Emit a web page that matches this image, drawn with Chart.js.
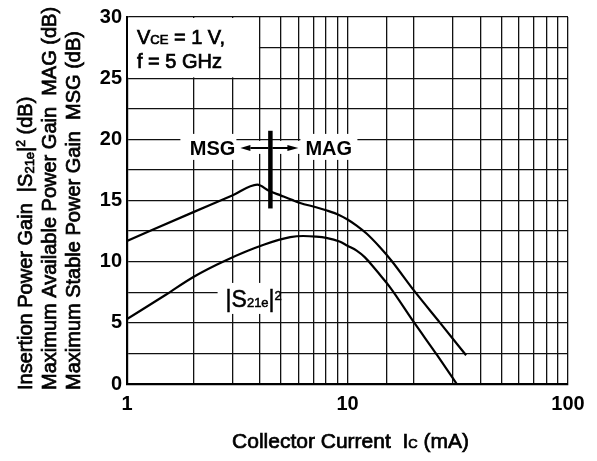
<!DOCTYPE html>
<html>
<head>
<meta charset="utf-8">
<script src="https://cdn.jsdelivr.net/npm/chart.js@4/dist/chart.umd.min.js"></script>
<style>
  html, body { margin: 0; padding: 0; background: #fff; }
  #wrap { width: 597px; height: 461px; }
</style>
</head>
<body>
<div id="wrap"><canvas id="c" width="597" height="461"></canvas></div>
<script>
// MSG / MAG versus collector current (VCE = 1 V, f = 5 GHz)
const gainCurrent = [1, 2, 3, 3.9, 4.4, 5.0, 5.6, 6.1, 7.2, 8, 9.2, 10, 11, 12.2, 14, 15.8, 20, 26.3, 34.5];
const gainValues  = [11.7, 14.05, 15.4, 16.3, 15.8, 15.4, 15.05, 14.8, 14.45, 14.2, 13.8, 13.45, 12.95, 12.3, 11.2, 10.1, 7.65, 5.0, 2.35];

// Insertion power gain |S21e|^2 versus collector current
const s21Current = [1, 1.5, 2, 2.8, 4.2, 5.5, 6.3, 7.2, 8, 9.2, 10, 11, 12, 13, 14, 15.6, 20, 25.4, 31.3];
const s21Values  = [5.3, 7.3, 8.75, 10.1, 11.4, 12.0, 12.1, 12.05, 11.95, 11.65, 11.3, 10.9, 10.35, 9.65, 8.95, 7.9, 5.05, 2.4, 0];

// Boundary between the MSG and MAG regions
const boundaryCurrent = [4.47, 4.47];
const boundaryGain = [14.35, 20.7];

// Axis ticks
const xTickLabels = [1, 10, 100];
const yTickLabels = [0, 5, 10, 15, 20, 25, 30];

const FONT = "'Liberation Sans', Arial, Helvetica, sans-serif";

function pts(xs, ys) { return xs.map((x, i) => ({ x: x, y: ys[i] })); }

// draw a sequence of text runs with their own sizes and vertical shifts
function runsWidth(ctx, runs) {
  let w = 0;
  for (const r of runs) { ctx.font = (r.w || 'normal') + ' ' + r.s + 'px ' + FONT; w += ctx.measureText(r.t).width; }
  return w;
}
function drawRuns(ctx, x, y, runs, stroke) {
  let cx = x;
  for (const r of runs) {
    ctx.font = (r.w || 'normal') + ' ' + r.s + 'px ' + FONT;
    ctx.fillText(r.t, cx, y + (r.dy || 0));
    if (stroke) { ctx.lineWidth = stroke; ctx.strokeText(r.t, cx, y + (r.dy || 0)); }
    cx += ctx.measureText(r.t).width;
  }
}

const labelPlugin = {
  id: 'gainLabels',
  beforeDatasetsDraw(chart) {
    const ctx = chart.ctx, xs = chart.scales.x, ys = chart.scales.y, a = chart.chartArea;
    ctx.save();
    ctx.fillStyle = '#fff';
    // condition box in the upper-left corner
    const boxR = xs.getPixelForValue(4) - 0.8, boxB = ys.getPixelForValue(25) - 0.8;
    ctx.fillRect(a.left + 1, a.top + 1, boxR - a.left - 1, boxB - a.top - 1);

    const bx = xs.getPixelForValue(boundaryCurrent[0]);
    const rowY = ys.getPixelForValue(19.3);
    // label backgrounds
    ctx.fillRect(bx - 90, rowY - 14, 56, 26);
    ctx.fillRect(bx - 34, rowY - 7, 68, 13);
    ctx.fillRect(bx + 30, rowY - 14, 57, 26);
    const sx = xs.getPixelForValue(2.8), sy = ys.getPixelForValue(6.3);
    ctx.fillRect(sx - 8, sy - 24, 62, 31);

    ctx.fillStyle = '#000';
    ctx.strokeStyle = '#000';
    ctx.textBaseline = 'alphabetic';
    ctx.textAlign = 'left';
    drawRuns(ctx, a.left + 10, a.top + 27, [
      { t: 'V', s: 20 }, { t: 'CE', s: 13 }, { t: ' = 1 V,', s: 20 }
    ], 0.7);
    drawRuns(ctx, a.left + 10, a.top + 51, [{ t: 'f = 5 GHz', s: 20 }], 0.7);

    // MSG <- | -> MAG
    ctx.font = 'bold 20px ' + FONT;
    ctx.textAlign = 'right';
    ctx.fillText('MSG', bx - 35, rowY + 7);
    ctx.textAlign = 'left';
    ctx.fillText('MAG', bx + 35, rowY + 7);
    ctx.lineWidth = 2;
    ctx.beginPath();
    ctx.moveTo(bx - 2, rowY); ctx.lineTo(bx - 20, rowY);
    ctx.moveTo(bx + 2, rowY); ctx.lineTo(bx + 18, rowY);
    ctx.stroke();
    ctx.beginPath();
    ctx.moveTo(bx - 30, rowY); ctx.lineTo(bx - 20, rowY - 3); ctx.lineTo(bx - 20, rowY + 3); ctx.closePath();
    ctx.moveTo(bx + 28, rowY); ctx.lineTo(bx + 17, rowY - 3); ctx.lineTo(bx + 17, rowY + 3); ctx.closePath();
    ctx.fill();

    // |S21e|^2
    drawRuns(ctx, sx, sy, [
      { t: '|S', s: 23 }, { t: '21e', s: 13 }, { t: '|', s: 23 }, { t: '2', s: 13, dy: -7 }
    ], 0.5);
    ctx.restore();
  },
  afterDraw(chart) {
    const ctx = chart.ctx, a = chart.chartArea;
    ctx.save();
    ctx.fillStyle = '#000';
    ctx.strokeStyle = '#000';
    ctx.textBaseline = 'alphabetic';
    ctx.textAlign = 'left';
    // x-axis title
    const xt = [
      { t: 'Collector Current  I', s: 21 }, { t: 'C', s: 13 }, { t: ' (mA)', s: 21 }
    ];
    const w = runsWidth(ctx, xt);
    drawRuns(ctx, (a.left + a.right) / 2 + 3 - w / 2, 448, xt, 0.7);

    // y-axis titles, three lines
    const lines = [
      [{ t: 'Insertion Power Gain  |S', s: 20 }, { t: '21e', s: 13, dy: 2 }, { t: '|', s: 20 }, { t: '2', s: 12, dy: -7 }, { t: ' (dB)', s: 20 }],
      [{ t: 'Maximum Available Power Gain  MAG (dB)', s: 20 }],
      [{ t: 'Maximum Stable Power Gain  MSG (dB)', s: 20 }]
    ];
    const baseX = [32, 56, 79.5];
    lines.forEach((runs, i) => {
      ctx.save();
      ctx.translate(baseX[i], 390);
      ctx.rotate(-Math.PI / 2);
      drawRuns(ctx, 0, 0, runs, 0.7);
      ctx.restore();
    });
    ctx.restore();
  }
};

new Chart(document.getElementById('c'), {
  type: 'line',
  data: {
    datasets: [
      { label: 'MSG / MAG', data: pts(gainCurrent, gainValues), borderColor: '#000', borderWidth: 2.2,
        pointRadius: 0, cubicInterpolationMode: 'monotone', fill: false },
      { label: '|S21e|²', data: pts(s21Current, s21Values), borderColor: '#000', borderWidth: 2.2,
        pointRadius: 0, cubicInterpolationMode: 'monotone', fill: false },
      { label: 'MSG/MAG boundary', data: pts(boundaryCurrent, boundaryGain), borderColor: '#000', borderWidth: 4.5,
        pointRadius: 0, borderCapStyle: 'butt', fill: false }
    ]
  },
  options: {
    responsive: false,
    devicePixelRatio: 1,
    animation: false,
    events: [],
    layout: { padding: { left: 0, top: 16, right: 29, bottom: 0 } },
    plugins: { legend: { display: false }, tooltip: { enabled: false } },
    scales: {
      x: {
        type: 'logarithmic', min: 1, max: 100,
        grid: { color: '#111', lineWidth: 1.3, drawTicks: false },
        border: { color: '#000', width: 2.2 },
        ticks: {
          color: '#000', padding: 8, maxRotation: 0, autoSkip: false,
          font: { family: FONT, size: 20, weight: 'bold' },
          callback: v => xTickLabels.includes(v) ? String(v) : ''
        },
        afterFit: s => { s.height = 77; }
      },
      y: {
        type: 'linear', min: 0, max: 30,
        grid: { color: '#111', lineWidth: 1.3, drawTicks: false },
        border: { color: '#000', width: 2.2 },
        ticks: {
          color: '#000', padding: 5, stepSize: 2.5, autoSkip: false,
          font: { family: FONT, size: 20, weight: 'bold' },
          callback: v => yTickLabels.includes(v) ? String(v) : ''
        },
        afterFit: s => { s.width = 127; }
      }
    }
  },
  plugins: [labelPlugin]
});
</script>
</body>
</html>
